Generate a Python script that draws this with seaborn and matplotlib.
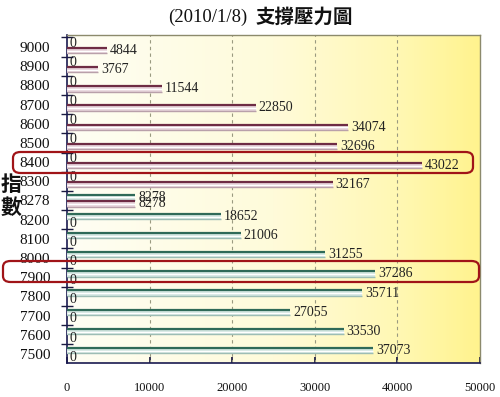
import matplotlib

matplotlib.use("Agg")

import matplotlib.pyplot as plt
import numpy as np
import pandas as pd
import seaborn as sns
from matplotlib.colors import LinearSegmentedColormap
from matplotlib.patches import FancyBboxPatch
from matplotlib.ticker import FixedLocator


# =========================
# Data
# =========================

levels = ["9000", "8900", "8800", "8700", "8600", "8500", "8400", "8300", "8278",
          "8200", "8100", "8000", "7900", "7800", "7700", "7600", "7500"]
support = [0, 0, 0, 0, 0, 0, 0, 0, 8278,
           18652, 21006, 31255, 37286, 35711, 27055, 33530, 37073]
pressure = [4844, 3767, 11544, 22850, 34074, 32696, 43022, 32167, 8278,
            0, 0, 0, 0, 0, 0, 0, 0]
x_ticks = [0, 10000, 20000, 30000, 40000, 50000]

df = pd.concat([
    pd.DataFrame({"level": levels, "series": "support", "value": support}),
    pd.DataFrame({"level": levels, "series": "pressure", "value": pressure}),
])

SERIF = "Liberation Serif"
CJK = "Noto Sans CJK TC"

sns.set_theme(style="white")
plt.rcParams["font.family"] = [SERIF, CJK]

W, H = 500, 397
fig = plt.figure(figsize=(5.0, 3.97), dpi=100)
ax = fig.add_axes([67 / W, 1 - 363 / H, (480 - 67) / W, (363 - 35) / H])


# =========================
# Bars
# =========================

face = {"support": "#cfe9e3", "pressure": "#ead0d9"}
edge = {"support": "#2f6a58", "pressure": "#6e2c44"}
shade = {"support": "#9dbdb5", "pressure": "#b9a0aa"}

sns.barplot(
    data=df, y="level", x="value", hue="series", order=levels,
    hue_order=["support", "pressure"], palette=face, orient="h",
    width=0.70, legend=False, ax=ax, zorder=3,
)
for cont, name in zip(ax.containers, ["support", "pressure"]):
    for p in cont:
        p.set_linewidth(0)
        if p.get_width() <= 0:
            continue
        top, h, w = p.get_y(), p.get_height(), p.get_width()
        # tube look: dark top line, white highlight, shaded bottom
        ax.hlines(top + 0.04, 0, w, color=edge[name], linewidth=1.6, zorder=4)
        ax.hlines(top + h * 0.55, 0, w, color="white", linewidth=1.0, zorder=4)
        ax.hlines(top + h - 0.03, 0, w, color=shade[name], linewidth=1.0, zorder=4)
    ax.bar_label(cont, fmt="%d", padding=2, fontsize=10, family=SERIF,
                 color="#222222", zorder=5)

ax.set_xlim(0, 50000)
ax.set_ylim(16.47, -0.625)

# yellow gradient background
cmap = LinearSegmentedColormap.from_list(
    "bg", [(0, "#fefef4"), (0.5, "#fffbda"), (0.8, "#fff8b4"), (1, "#fff38e")])
grad = np.linspace(0, 1, 256).reshape(1, -1)
ax.imshow(grad, cmap=cmap, aspect="auto", extent=[0, 50000, 16.47, -0.625], zorder=0)

for xv in x_ticks[1:-1]:
    ax.axvline(xv, color="#9a9a80", linestyle=(0, (3, 3)), linewidth=0.8, zorder=1)


# =========================
# Axes styling
# =========================

ax.set_xticks(x_ticks)
ax.set_xticklabels([str(v) for v in x_ticks], fontsize=9, family=SERIF)
ax.set_yticks(range(len(levels)))
ax.set_yticklabels(levels, fontsize=11, family=SERIF)
ax.yaxis.set_minor_locator(FixedLocator(np.arange(-0.5, len(levels), 1.0)))
ax.tick_params(axis="y", which="major", length=0, pad=12, colors="#111111")
ax.tick_params(axis="y", which="minor", left=True, length=9, width=1,
               direction="inout", color="#1a1a40")
ax.tick_params(axis="x", which="major", bottom=True, length=4, direction="in",
               pad=14, color="#1a1a40", labelcolor="#111111")
ax.set_xlabel("")
ax.set_ylabel("")

for side in ["left", "bottom"]:
    ax.spines[side].set_color("#1a1a50")
    ax.spines[side].set_linewidth(1.2)
for side in ["top", "right"]:
    ax.spines[side].set_color("#8c8a6c")
    ax.spines[side].set_linewidth(1.0)


# =========================
# Titles and annotations
# =========================

fig.text(247 / W, 1 - 17 / H, "(2010/1/8)", ha="right", va="center",
         fontsize=13.5, family=SERIF, color="#111111")
fig.text(256 / W, 1 - 17 / H, "支撐壓力圖", ha="left", va="center",
         fontsize=14, family=CJK, fontweight="bold", color="#111111")
fig.text(11 / W, 1 - 196 / H, "指\n數", ha="center", va="center",
         fontsize=15, family=CJK, fontweight="bold", linespacing=1.15, color="#111111")

for x0, y0, x1, y1 in [(13, 152, 473, 173), (3, 261, 479, 282)]:
    box = FancyBboxPatch(
        (x0 / W, 1 - y1 / H), (x1 - x0) / W, (y1 - y0) / H,
        boxstyle="round,pad=0,rounding_size=0.015", transform=fig.transFigure,
        fill=False, edgecolor="#a01418", linewidth=1.6, zorder=10,
    )
    fig.patches.append(box)

plt.savefig("out.png", dpi=100)
